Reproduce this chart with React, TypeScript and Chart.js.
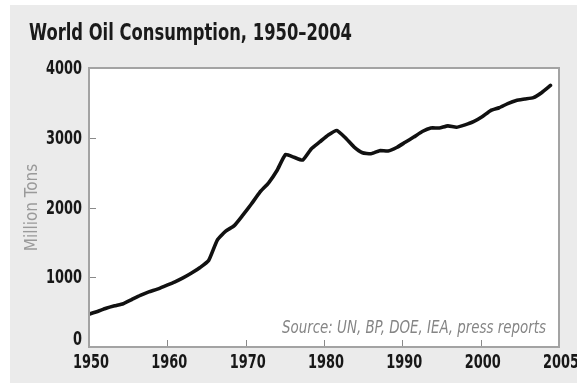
import React, { useEffect, useRef } from "react";
import { Chart, registerables } from "chart.js";

Chart.register(...registerables);

// Annual world oil consumption, million tons
const years = [
  1950, 1951, 1952, 1953, 1954, 1955, 1956, 1957, 1958, 1959,
  1960, 1961, 1962, 1963, 1964, 1965, 1966, 1967, 1968, 1969,
  1970, 1971, 1972, 1973, 1974, 1975, 1976, 1977, 1978, 1979,
  1980, 1981, 1982, 1983, 1984, 1985, 1986, 1987, 1988, 1989,
  1990, 1991, 1992, 1993, 1994, 1995, 1996, 1997, 1998, 1999,
  2000, 2001, 2002, 2003, 2004,
];
const consumption = [
  470, 510, 555, 590, 620, 680, 740, 790, 830, 880,
  930, 990, 1060, 1140, 1240, 1530, 1660, 1740, 1890, 2050,
  2220, 2350, 2530, 2760, 2720, 2680, 2840, 2940, 3040, 3105,
  3000, 2870, 2785, 2770, 2815, 2810, 2860, 2935, 3010, 3090,
  3140, 3140, 3170, 3150, 3185, 3230, 3300, 3390, 3430, 3490,
  3535, 3555, 3575, 3650, 3750,
];

// Labels along the bottom axis, spaced evenly
const tickLabels = ["1950", "1960", "1970", "1980", "1990", "2000", "2005"];
const yTicks = [0, 1000, 2000, 3000, 4000];

const TITLE = "World Oil Consumption, 1950\u20132004";
const Y_TITLE = "Million Tons";
const SOURCE = "Source: UN, BP, DOE, IEA, press reports";

const NARROW = "'Liberation Sans Narrow', 'DejaVu Sans Condensed', 'Liberation Sans', sans-serif";

// Draws text squeezed horizontally by factor k
function squeezed(ctx: any, text: string, x: number, y: number, k: number, align: "left" | "right" | "center") {
  ctx.save();
  ctx.translate(x, y);
  ctx.scale(k, 1);
  ctx.textAlign = align;
  ctx.fillText(text, 0, 0);
  ctx.restore();
}

function fitFactor(ctx: any, text: string, width: number) {
  return Math.min(1, width / ctx.measureText(text).width);
}

const framePlugin = {
  id: "frame",
  beforeDraw(chart: any) {
    const { ctx, width, height, chartArea } = chart;
    ctx.save();
    ctx.fillStyle = "#ffffff";
    ctx.fillRect(0, 0, width, height);
    ctx.fillStyle = "#ebebeb";
    ctx.fillRect(10, 5, width - 10, height - 7);
    ctx.fillStyle = "#ffffff";
    ctx.fillRect(chartArea.left, chartArea.top, chartArea.right - chartArea.left, chartArea.bottom - chartArea.top);
    ctx.restore();
  },
  afterDraw(chart: any) {
    const { ctx, chartArea, scales } = chart;
    const { left, right, top, bottom } = chartArea;
    const y = scales.y;
    const xt = scales.xt;
    ctx.save();
    // plot frame
    ctx.strokeStyle = "#a3a3a3";
    ctx.lineWidth = 2;
    ctx.strokeRect(left, top, right - left, bottom - top);

    // inner tick marks
    ctx.strokeStyle = "#8a8a8a";
    ctx.lineWidth = 1;
    yTicks.slice(1, -1).forEach((v) => {
      const py = Math.round(y.getPixelForValue(v)) + 0.5;
      ctx.beginPath();
      ctx.moveTo(left + 1, py);
      ctx.lineTo(left + 7, py);
      ctx.stroke();
    });
    tickLabels.slice(1, -1).forEach((_, i) => {
      const px = Math.round(xt.getPixelForValue(i + 1)) + 0.5;
      ctx.beginPath();
      ctx.moveTo(px, bottom - 1);
      ctx.lineTo(px, bottom - 7);
      ctx.stroke();
    });

    // tick labels, bold condensed
    ctx.fillStyle = "#171717";
    ctx.font = `bold 20px ${NARROW}`;
    const k = fitFactor(ctx, "1950", 36);
    ctx.textBaseline = "middle";
    yTicks.forEach((v) => {
      const py = Math.min(y.getPixelForValue(v) + 1, bottom - 7);
      squeezed(ctx, String(v), left - 7, py, k, "right");
    });
    ctx.textBaseline = "alphabetic";
    tickLabels.forEach((lab, i) => {
      squeezed(ctx, lab, xt.getPixelForValue(i) + 2, bottom + 21, k, "center");
    });

    // chart title
    ctx.fillStyle = "#1a1a1a";
    ctx.font = `bold 23px ${NARROW}`;
    squeezed(ctx, TITLE, 29, 40, fitFactor(ctx, TITLE, 323), "left");

    // y axis title
    ctx.save();
    ctx.fillStyle = "#9a9a9a";
    ctx.font = `17px ${NARROW}`;
    ctx.textAlign = "center";
    ctx.textBaseline = "middle";
    ctx.translate(33, (top + bottom) / 2);
    ctx.rotate(-Math.PI / 2);
    ctx.fillText(Y_TITLE, 0, 0);
    ctx.restore();

    // source note
    ctx.fillStyle = "#858585";
    ctx.font = `italic 17px ${NARROW}`;
    ctx.textBaseline = "alphabetic";
    squeezed(ctx, SOURCE, right - 13, bottom - 14, fitFactor(ctx, SOURCE, 264), "right");
    ctx.restore();
  },
};

export default function App() {
  const canvasRef = useRef<HTMLCanvasElement | null>(null);

  useEffect(() => {
    const canvas = canvasRef.current;
    if (!canvas) return;
    const chart = new Chart(canvas, {
      type: "line",
      data: {
        datasets: [
          {
            data: years.map((yr, i) => ({ x: yr, y: consumption[i] })),
            borderColor: "#111111",
            borderWidth: 3.6,
            borderJoinStyle: "round",
            borderCapStyle: "round",
            pointRadius: 0,
            tension: 0.15,
            xAxisID: "x",
            yAxisID: "y",
          },
        ],
      },
      options: {
        animation: false,
        responsive: false,
        maintainAspectRatio: false,
        layout: { padding: { left: 29, top: 68, right: 18, bottom: 12 } },
        plugins: {
          legend: { display: false },
          tooltip: { enabled: false },
          title: { display: false },
        },
        scales: {
          x: {
            type: "linear",
            min: 1950,
            max: 2005,
            display: false,
          },
          xt: {
            type: "linear",
            position: "bottom",
            min: 0,
            max: tickLabels.length - 1,
            grid: { display: false, drawTicks: false },
            border: { display: false },
            ticks: { display: false, stepSize: 1 },
            afterFit: (s: any) => {
              s.height = 26;
            },
          },
          y: {
            type: "linear",
            min: yTicks[0],
            max: yTicks[yTicks.length - 1],
            grid: { display: false, drawTicks: false },
            border: { display: false },
            ticks: { display: false, stepSize: 1000 },
            afterFit: (s: any) => {
              s.width = 60;
            },
          },
        },
      },
      plugins: [framePlugin],
    });
    return () => chart.destroy();
  }, []);

  return (
    <div style={{ position: "absolute", left: 0, top: 0, width: 577, height: 385 }}>
      <canvas ref={canvasRef} width={577} height={385} style={{ display: "block" }} />
    </div>
  );
}
